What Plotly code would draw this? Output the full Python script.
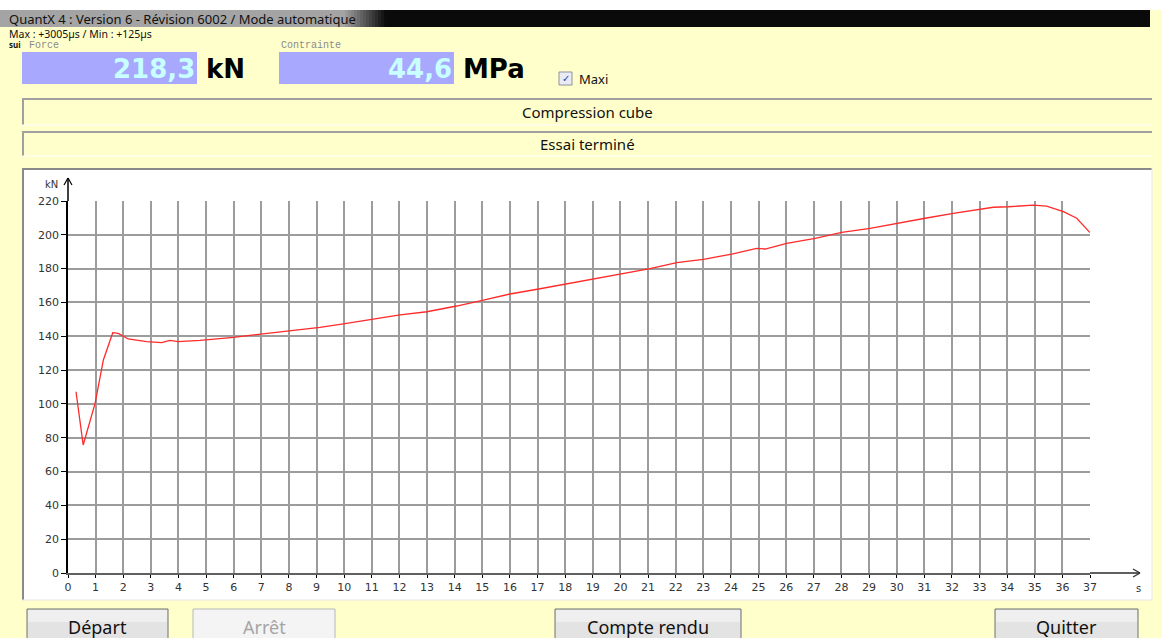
import plotly.graph_objects as go

# ---------------- data ----------------
time_s = [0.29, 0.55, 0.98, 1.28, 1.62, 1.82, 2.18, 2.85, 3.39, 3.69, 3.99, 4.78,
          5.99, 6.95, 8.04, 9.12, 9.97, 11.0, 12.02, 12.99, 14.07, 15.04, 16.0,
          17.09, 18.06, 19.02, 19.99, 21.07, 22.04, 23.0, 24.03, 24.93, 25.24,
          26.02, 27.05, 28.01, 29.04, 30.0, 31.03, 32.05, 32.78, 33.5, 34.05,
          34.95, 35.43, 36.04, 36.52, 37.0]
force_kN = [107.2, 75.7, 100.3, 126.0, 142.1, 141.7, 138.4, 136.8, 136.2, 137.6,
            136.8, 137.6, 139.4, 141.2, 143.1, 145.3, 147.3, 149.8, 152.6, 154.5,
            157.9, 161.4, 165.0, 168.1, 170.9, 174.1, 176.8, 180.0, 183.5, 185.5,
            188.6, 192.0, 191.6, 195.0, 197.9, 201.5, 203.8, 206.8, 209.8, 212.7,
            214.3, 216.3, 216.6, 217.6, 217.0, 213.7, 209.8, 201.3]
x_ticks = list(range(0, 38))
y_ticks = list(range(0, 221, 20))

title_text = "QuantX 4 : Version 6 - Révision 6002 / Mode automatique"
timing_text = "Max : +3005µs / Min : +125µs"
force_value = "218,3"
stress_value = "44,6"
test_name = "Compression cube"
status_text = "Essai terminé"
buttons = ["Départ", "Arrêt", "Compte rendu", "Quitter"]

# ---------------- geometry helpers ----------------
W, H = 1162, 638
L, R, T, B = 68, 1090, 201, 573
YELLOW = "#FFFFCC"


def px(x):
    return (x - L) / (R - L)


def py(y):
    return (B - y) / (B - T)


shapes = []
annotations = []


def rect(x0, y0, x1, y1, fill, line=None, lw=0):
    shapes.append(dict(type="rect", xref="paper", yref="paper",
                       x0=px(x0), x1=px(x1), y0=py(y1), y1=py(y0),
                       fillcolor=fill, layer="below",
                       line=dict(color=line or fill, width=lw)))


def seg(x0, y0, x1, y1, color, width=1, layer="above"):
    shapes.append(dict(type="line", xref="paper", yref="paper",
                       x0=px(x0), x1=px(x1), y0=py(y0), y1=py(y1),
                       layer=layer, line=dict(color=color, width=width)))


def text(x, y, s, size, color="#000000", family="Noto Sans", xanchor="left"):
    annotations.append(dict(x=px(x), y=py(y), xref="paper", yref="paper",
                            text=s, showarrow=False, xanchor=xanchor,
                            yanchor="middle", font=dict(size=size, color=color,
                                                        family=family)))


# window top: white strip + title bar
rect(0, 0, W, 10, "#FFFFFF")
rect(0, 10, 1150, 27, "#0a0a0a")
rect(0, 10, 345, 27, "#a4a4a4")
steps = 14
for i in range(steps):
    v = int(164 - (164 - 12) * (i + 1) / steps)
    c = "#%02x%02x%02x" % (v, v, v)
    rect(345 + i * 3, 10, 348 + i * 3, 27, c)
text(7, 19, title_text, 13, "#111111", "Noto Sans")

# yellow body
rect(0, 27, W, H, YELLOW)
text(7, 33.5, timing_text, 10.5, "#111111", "Noto Sans")
text(7, 45, "<b>sui</b>", 8, "#111111", "Noto Sans")
text(27, 46, "Force", 10, "#8a8a8a", "Liberation Mono")
text(279, 46, "Contrainte", 10, "#8a8a8a", "Liberation Mono")

# value boxes
rect(22, 52, 197, 84, "#A8A8FF")
rect(279, 52, 454, 84, "#A8A8FF")
text(197, 68.5, "<b>" + force_value + "</b>", 26, "#C8FFFF", "DejaVu Sans", "right")
text(204, 69, "<b>kN</b>", 26, "#000000", "DejaVu Sans")
text(454, 68.5, "<b>" + stress_value + "</b>", 26, "#C8FFFF", "DejaVu Sans", "right")
text(461, 69, "<b>MPa</b>", 26, "#000000", "DejaVu Sans")

# checkbox
rect(559, 72, 572, 85, "#e9ecf5", "#8f8f9f", 1)
text(565.5, 78.5, "✓", 10, "#2a3f9a", "DejaVu Sans", "center")
text(577, 79, "Maxi", 13, "#111111", "Noto Sans")

# info panels
for y0, y1, s in [(98, 125, test_name), (131, 156, status_text)]:
    rect(22, y0, 1152, y1, YELLOW)
    seg(22, y0 + 1, 1152, y0 + 1, "#a0a0a0", 2, "below")
    seg(23, y0, 23, y1, "#a0a0a0", 2, "below")
    seg(22, y1, 1152, y1, "#ffffff", 1, "below")
    text(587, (y0 + y1) / 2 + 0.5, s, 15, "#111111", "Noto Sans", "center")

# chart panel
rect(22, 168, 1152, 600, "#FFFFFF")
seg(22, 169, 1152, 169, "#8a8a8a", 2, "below")
seg(23, 168, 23, 600, "#8a8a8a", 2, "below")
seg(22, 600, 1152, 600, "#e6e6e6", 1, "below")
seg(1152, 168, 1152, 600, "#e6e6e6", 1, "below")

# axis extensions with open arrowheads
seg(L, T, L, 178, "#000000", 1.5)
seg(L - 4, 185, L, 178, "#000000", 1.2)
seg(L + 4, 185, L, 178, "#000000", 1.2)
seg(R, B, 1140, B, "#606060", 2)
seg(1133, B - 4, 1140, B, "#303030", 1.2)
seg(1133, B + 4, 1140, B, "#303030", 1.2)
text(51, 184, "kN", 10, "#333333", "DejaVu Sans", "center")
text(1138, 588, "s", 10, "#333333", "DejaVu Sans", "center")

# buttons
bx = [(27, 168), (193, 335), (555, 741), (995, 1138)]
for (x0, x1), s in zip(bx, buttons):
    disabled = s == "Arrêt"
    rect(x0, 609, x1, 650, "#f4f4f4" if disabled else "#e3e3e3",
         "#b8b8b8" if disabled else "#707070", 1)
    if not disabled:
        rect(x0 + 1, 610, x1 - 1, 622, "#efefef")
    text((x0 + x1) / 2, 626.5, s, 18, "#a5a5a5" if disabled else "#111111",
         "Noto Sans", "center")

# ---------------- figure ----------------
fig = go.Figure()
fig.add_trace(go.Scatter(x=time_s, y=force_kN, mode="lines",
                         line=dict(color="#FF2A2A", width=1.3),
                         hoverinfo="skip", showlegend=False))

fig.update_layout(
    width=W, height=H,
    margin=dict(l=L, r=W - R, t=T, b=H - B, pad=0),
    paper_bgcolor=YELLOW, plot_bgcolor="#FFFFFF",
    shapes=shapes, annotations=annotations, showlegend=False,
    xaxis=dict(range=[0, 37], tickvals=x_ticks, ticktext=[str(v) for v in x_ticks],
               showgrid=True, gridcolor="#9c9c9c", gridwidth=1.6,
               showline=True, linecolor="#606060", linewidth=2,
               ticks="outside", ticklen=3, tickcolor="#000000", tickwidth=1,
               zeroline=False, fixedrange=True,
               tickfont=dict(size=11, color="#333333", family="DejaVu Sans")),
    yaxis=dict(range=[0, 220], tickvals=y_ticks, ticktext=[str(v) for v in y_ticks],
               showgrid=True, gridcolor="#9c9c9c", gridwidth=1.6,
               showline=True, linecolor="#000000", linewidth=1.5,
               ticks="outside", ticklen=5, tickcolor="#000000", tickwidth=1,
               zeroline=False, fixedrange=True,
               tickfont=dict(size=11, color="#333333", family="DejaVu Sans")),
)

fig.write_html("out.html", config={"displayModeBar": False},
               post_script="document.body.style.margin='0px';")
